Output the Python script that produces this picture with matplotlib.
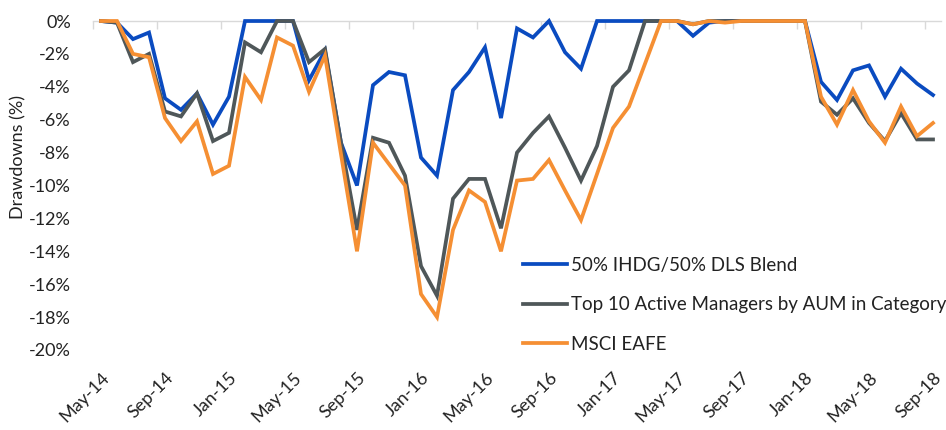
import matplotlib.pyplot as plt
from matplotlib.ticker import FixedLocator, FuncFormatter

plt.rcParams['font.family'] = ['Lato', 'DejaVu Sans']

months = ['May-14', 'Jun-14', 'Jul-14', 'Aug-14', 'Sep-14', 'Oct-14', 'Nov-14', 'Dec-14',
          'Jan-15', 'Feb-15', 'Mar-15', 'Apr-15', 'May-15', 'Jun-15', 'Jul-15', 'Aug-15',
          'Sep-15', 'Oct-15', 'Nov-15', 'Dec-15', 'Jan-16', 'Feb-16', 'Mar-16', 'Apr-16',
          'May-16', 'Jun-16', 'Jul-16', 'Aug-16', 'Sep-16', 'Oct-16', 'Nov-16', 'Dec-16',
          'Jan-17', 'Feb-17', 'Mar-17', 'Apr-17', 'May-17', 'Jun-17', 'Jul-17', 'Aug-17',
          'Sep-17', 'Oct-17', 'Nov-17', 'Dec-17', 'Jan-18', 'Feb-18', 'Mar-18', 'Apr-18',
          'May-18', 'Jun-18', 'Jul-18', 'Aug-18', 'Sep-18']

blend = [0, -0.1, -1.1, -0.7, -4.7, -5.4, -4.4, -6.3, -4.6, 0, 0, 0, 0,
         -3.6, -1.8, -7.4, -10.0, -3.9, -3.1, -3.3, -8.3, -9.4, -4.2, -3.1, -1.6,
         -5.9, -0.45, -1.0, 0, -1.9, -2.9, 0, 0, 0, 0, 0, 0, -0.9, -0.1,
         0, 0, 0, 0, 0, 0, -3.7, -4.8, -3.0, -2.7, -4.6, -2.9, -3.8, -4.5]

top10 = [0, -0.1, -2.5, -2.0, -5.5, -5.8, -4.4, -7.3, -6.8, -1.3, -1.9, 0, 0,
         -2.5, -1.7, -7.4, -12.7, -7.1, -7.4, -9.4, -14.9, -16.7, -10.8, -9.6, -9.6,
         -12.6, -8.0, -6.8, -5.8, -7.7, -9.7, -7.6, -4.0, -3.0, 0, 0, 0, -0.2, 0,
         0, 0, 0, 0, 0, 0, -4.9, -5.7, -4.7, -6.2, -7.3, -5.6, -7.2, -7.2]

eafe = [0, 0, -2.0, -2.2, -5.9, -7.3, -6.1, -9.3, -8.8, -3.4, -4.8, -1.0, -1.5,
        -4.3, -2.1, -8.1, -14.0, -7.4, -8.7, -10.0, -16.6, -18.0, -12.7, -10.3, -11.0,
        -14.0, -9.7, -9.6, -8.45, -10.3, -12.1, -9.3, -6.5, -5.2, -2.6, 0, 0, -0.2, 0,
        -0.1, 0, 0, 0, 0, 0, -4.6, -6.3, -4.2, -6.1, -7.4, -5.2, -7.0, -6.2]

names = ['50% IHDG/50% DLS Blend', 'Top 10 Active Managers by AUM in Category', 'MSCI EAFE']
colors = ['#0A4BC0', '#4F5759', '#F58F33']

txt = '#222222'

fig = plt.figure(figsize=(9.46, 4.30), dpi=100)
ax = fig.add_axes([93 / 946, 1 - 350 / 430, 848 / 946, 329 / 430])

x = list(range(len(months)))
for s, n, c in zip([blend, top10, eafe], names, colors):
    ax.plot(x, s, color=c, lw=2.7, label=n, clip_on=False, solid_joinstyle='miter')

ax.set_xlim(-0.5, len(months) - 0.5)
ax.set_ylim(-20, 0)

for sp in ['left', 'right', 'bottom']:
    ax.spines[sp].set_visible(False)
ax.spines['top'].set_color('#D9D9D9')
ax.spines['top'].set_linewidth(1)
ax.spines['top'].set_zorder(0)

ax.set_yticks(range(-20, 1, 2))
ax.yaxis.set_major_formatter(FuncFormatter(lambda v, p: '%d%%' % v))
ax.tick_params(axis='y', length=0, pad=16, labelsize=13, labelcolor=txt)

ax.set_xticks(x[::4])
ax.set_xticklabels(months[::4], rotation=45, ha='right', rotation_mode='anchor')
ax.tick_params(axis='x', which='major', length=0, pad=14, labelsize=13, labelcolor=txt)
ax.xaxis.set_minor_locator(FixedLocator([i - 0.5 for i in x[::4]]))
ax.tick_params(axis='x', which='minor', top=True, bottom=False, direction='in',
               length=6, color='#D9D9D9', width=1)

ax.set_ylabel('Drawdowns (%)', fontsize=13, color=txt)
ax.yaxis.set_label_coords(-0.079, 0.587)

fig.legend(loc='upper left', bbox_to_anchor=(523 / 946, 1 - 257 / 430), frameon=False,
           fontsize=13.5, labelcolor=txt, handlelength=2.35, handletextpad=0.2,
           labelspacing=1.19, borderpad=0, borderaxespad=0)

fig.savefig('out.png', dpi=100)
